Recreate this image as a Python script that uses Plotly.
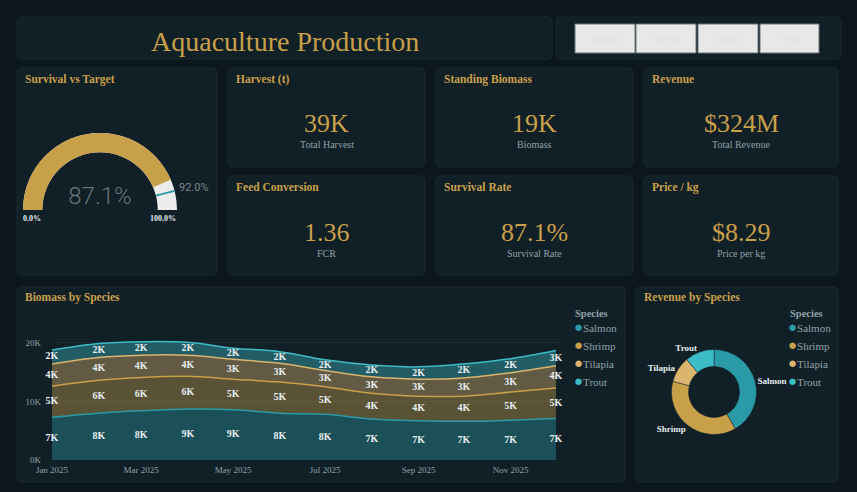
import plotly.graph_objects as go

W, H = 857, 492

# ---------------- data ----------------
months = ["2025-01-01", "2025-02-01", "2025-03-01", "2025-04-01", "2025-05-01", "2025-06-01",
          "2025-07-01", "2025-08-01", "2025-09-01", "2025-10-01", "2025-11-01", "2025-12-01"]
species = ["Salmon", "Shrimp", "Tilapia", "Trout"]
salmon = [7300, 8000, 8400, 8700, 8600, 8000, 7800, 7000, 6700, 6600, 6800, 7100]
shrimp = [5300, 5600, 5700, 5600, 5200, 5300, 4700, 4400, 4200, 4300, 4800, 5200]
tilapia = [3800, 3900, 3800, 3600, 3400, 3200, 2800, 2800, 2900, 3100, 3300, 3800]
trout = [2400, 2400, 2300, 2200, 1900, 2000, 1800, 2000, 2100, 2400, 2400, 2600]
revenue_musd = [135, 121, 32, 36]

survival_pct = 87.1
survival_target = 92.0

kpi_titles = ["Harvest (t)", "Standing Biomass", "Revenue", "Feed Conversion", "Survival Rate", "Price / kg"]
kpi_values = ["39K", "19K", "$324M", "1.36", "87.1%", "$8.29"]
kpi_subs = ["Total Harvest", "Biomass", "Total Revenue", "FCR", "Survival Rate", "Price per kg"]

y_tickvals = [0, 10000, 20000]
y_ticktext = ["0K", "10K", "20K"]

# ---------------- style ----------------
BG = "#0c171c"
PANEL = "#111f26"
PANEL_BORDER = "#1a2a31"
GOLD = "#c9a04a"
MUTED = "#8ea2aa"
SERIF = "Georgia, 'Liberation Serif', 'DejaVu Serif', serif"
colors = {"Salmon": "#2a9ba6", "Shrimp": "#c9a04a", "Tilapia": "#dbb56e", "Trout": "#3cbcc6"}


def px(x):
    return x / W


def py(y):
    return 1 - y / H


def rgba(hexc, a):
    h = hexc.lstrip("#")
    r, g, b = int(h[0:2], 16), int(h[2:4], 16), int(h[4:6], 16)
    return f"rgba({r},{g},{b},{a})"


def rrect(x0, y0, x1, y1, r=5):
    pts = [
        ("M", [(x0 + r, y0)]), ("L", [(x1 - r, y0)]), ("Q", [(x1, y0), (x1, y0 + r)]),
        ("L", [(x1, y1 - r)]), ("Q", [(x1, y1), (x1 - r, y1)]), ("L", [(x0 + r, y1)]),
        ("Q", [(x0, y1), (x0, y1 - r)]), ("L", [(x0, y0 + r)]), ("Q", [(x0, y0), (x0 + r, y0)]),
    ]
    s = ""
    for cmd, ps in pts:
        s += cmd + " " + " ".join(f"{px(a):.5f},{py(b):.5f}" for a, b in ps) + " "
    return s + "Z"


shapes = []
annotations = []


def panel(x0, y0, x1, y1, fill=PANEL):
    shapes.append(dict(type="path", path=rrect(x0, y0, x1, y1), xref="paper", yref="paper",
                       fillcolor=fill, line=dict(color=PANEL_BORDER, width=1), layer="below"))


def text(x, y, t, size, color, xanchor="center", bold=False, family=SERIF):
    annotations.append(dict(x=px(x), y=py(y), xref="paper", yref="paper", text=t, showarrow=False,
                            xanchor=xanchor, yanchor="middle",
                            font=dict(size=size, color=color, family=family,
                                      weight="bold" if bold else "normal")))


# panels
panel(17, 17, 552, 59)
panel(556, 17, 841, 59)
panel(17, 68, 217, 275)
kpi_boxes = [(228, 68, 425, 167), (436, 68, 633, 167), (644, 68, 838, 167),
             (228, 176, 425, 275), (436, 176, 633, 275), (644, 176, 838, 275)]
for b in kpi_boxes:
    panel(*b)
panel(17, 287, 625, 482)
panel(636, 287, 838, 482)

# header
text(285, 41, "Aquaculture Production", 28, GOLD)
btn_x = [(575, 635), (636, 696), (698, 758), (760, 819)]
for (bx0, bx1), s in zip(btn_x, species):
    shapes.append(dict(type="rect", x0=px(bx0), x1=px(bx1), y0=py(53), y1=py(24), xref="paper", yref="paper",
                       fillcolor="#e8e8e8", line=dict(color="#6b7478", width=1)))
    text((bx0 + bx1) / 2, 39, s, 9, "#dce6e8", bold=True)

# KPI cards
for (x0, y0, x1, y1), t, v, sub in zip(kpi_boxes, kpi_titles, kpi_values, kpi_subs):
    text(x0 + 6, y0 + 11, t, 11.5, GOLD, xanchor="left", bold=True)
    cx = (x0 + x1) / 2
    text(cx, y0 + 56, v, 26, GOLD)
    text(cx, y0 + 77, sub, 10, MUTED)

# gauge panel
text(23, 79, "Survival vs Target", 11.5, GOLD, xanchor="left", bold=True)
text(32, 219, "0.0%", 8, "#e6edef", bold=True)
text(163, 219, "100.0%", 8, "#e6edef", bold=True)
text(194, 187, f"{survival_target:.1f}%", 11, "#7d878b", family="Roboto")

text(23, 297, "Biomass by Species", 11.5, GOLD, xanchor="left", bold=True)
text(642, 297, "Revenue by Species", 11.5, GOLD, xanchor="left", bold=True)


# legends (title + bullet rows)
def legend_block(x_title, x_item, y0):
    text(x_title, y0, "Species", 10.5, MUTED, xanchor="left", bold=True)
    for i, s in enumerate(species):
        text(x_item, y0 + 14 + 18 * i,
             f"<span style='color:{colors[s]};font-size:15px'>●</span>{s}", 11, MUTED, xanchor="left")


legend_block(572.5, 571.5, 313)
legend_block(787.5, 785.5, 313)

fig = go.Figure()

fig.add_trace(go.Indicator(
    mode="gauge+number", value=survival_pct,
    number=dict(suffix="%", valueformat=".1f", font=dict(size=24, color="#6a7378", family="Roboto", weight=300)),
    gauge=dict(shape="angular", axis=dict(range=[0, 100], visible=False),
               bar=dict(color=GOLD, thickness=1), bgcolor="#ececec", borderwidth=0,
               threshold=dict(line=dict(color="#2a9ba6", width=2), thickness=1, value=survival_target)),
    domain=dict(x=[px(23), px(177)], y=[py(210), py(133)]),
))

# stacked areas
series = {"Salmon": salmon, "Shrimp": shrimp, "Tilapia": tilapia, "Trout": trout}
for s in species:
    fig.add_trace(go.Scatter(x=months, y=series[s], name=s, stackgroup="bio", mode="lines",
                             line=dict(shape="spline", width=1.5, color=colors[s]),
                             fillcolor=rgba(colors[s], 0.4), showlegend=False, hoverinfo="skip"))

# band labels
base = [0] * len(months)
for s in species:
    vals = series[s]
    mids = [b + v / 2 for b, v in zip(base, vals)]
    fig.add_trace(go.Scatter(x=months, y=mids, mode="text", text=[f"{round(v / 1000)}K" for v in vals],
                             textfont=dict(size=10, color="#e6edef", family=SERIF, weight="bold"),
                             cliponaxis=False, showlegend=False, hoverinfo="skip"))
    base = [b + v for b, v in zip(base, vals)]

fig.add_trace(go.Pie(labels=species, values=revenue_musd, hole=0.6, sort=False, direction="clockwise",
                     rotation=0, marker=dict(colors=[colors[s] for s in species], line=dict(color=PANEL, width=0.5)),
                     textinfo="label", textposition="outside",
                     textfont=dict(size=9, color="#e6edef", family=SERIF, weight="bold"),
                     showlegend=False, hoverinfo="label+value+percent",
                     domain=dict(x=[px(671.5), px(756.5)], y=[py(434.5), py(349.5)])))

fig.update_layout(
    width=W, height=H, autosize=False,
    margin=dict(l=0, r=0, t=0, b=0, autoexpand=False),
    paper_bgcolor=BG, plot_bgcolor="rgba(0,0,0,0)",
    shapes=shapes, annotations=annotations,
    xaxis=dict(domain=[px(52), px(562)], range=["2025-01-01", "2025-12-05"], type="date",
               dtick="M2", tickformat="%b %Y", showgrid=False, zeroline=False, ticklabelstandoff=3,
               tickfont=dict(size=9, color=MUTED, family=SERIF), ticks="", showline=False),
    yaxis=dict(domain=[py(460), py(337)], range=[0, 21000], tickvals=y_tickvals, ticktext=y_ticktext,
               showgrid=True, gridcolor="#1b2b32", gridwidth=1, zeroline=False, ticklabelstandoff=10,
               tickfont=dict(size=9, color=MUTED, family=SERIF), ticks="", showline=False),
    showlegend=False,
)

fig.write_html("out.html")
